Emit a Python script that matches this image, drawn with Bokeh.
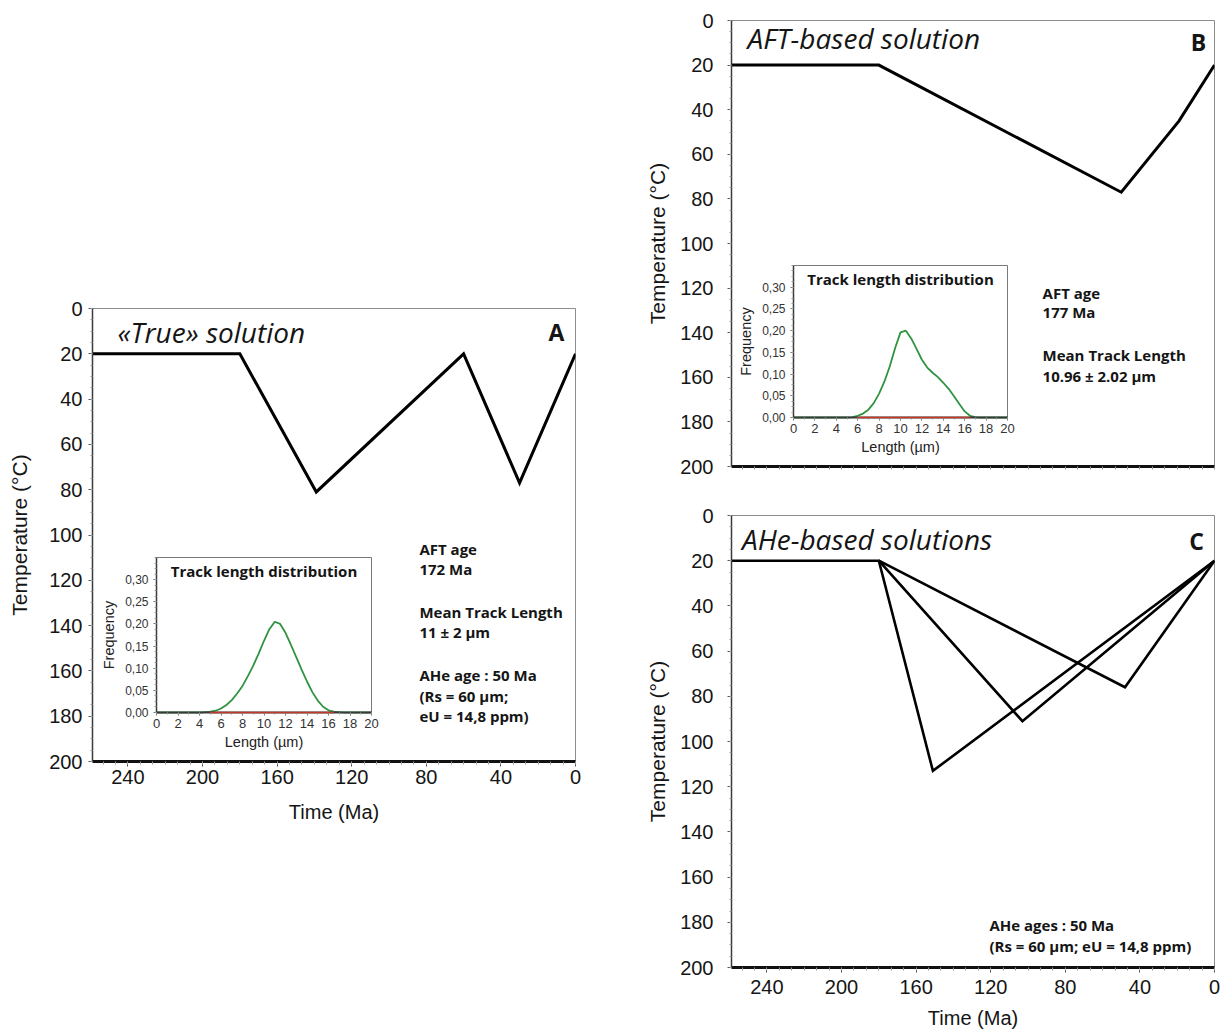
from bokeh.plotting import figure
from bokeh.models import Range1d, LinearAxis, FixedTicker, CustomJSTickFormatter, Label
from bokeh.layouts import row, column
from bokeh.embed import file_html
from bokeh.resources import INLINE

# ---------------- data ----------------
# thermal histories (time in Ma, temperature in degC)
time_A = [260, 180, 139, 60, 30, 0]
temp_A = [20, 20, 81, 20, 77, 20]

time_B = [260, 180, 50, 19, 0]
temp_B = [20, 20, 77, 45, 20]

time_C1 = [260, 180, 151, 0]
temp_C1 = [20, 20, 113, 20]
time_C2 = [180, 103, 0]
temp_C2 = [20, 91, 20]
time_C3 = [180, 48, 0]
temp_C3 = [20, 76, 20]

# track length distributions
length_um = [0, 0.5, 1, 1.5, 2, 2.5, 3, 3.5, 4, 4.5, 5, 5.5, 6, 6.5, 7, 7.5, 8, 8.5, 9, 9.5,
             10, 10.5, 11, 11.5, 12, 12.5, 13, 13.5, 14, 14.5, 15, 15.5, 16, 16.5, 17, 17.5,
             18, 18.5, 19, 19.5, 20]
freq_A = [0, 0, 0, 0, 0, 0, 0, 0, 0, 0.001, 0.002, 0.004, 0.009, 0.017, 0.028, 0.043, 0.060,
          0.082, 0.106, 0.133, 0.162, 0.188, 0.205, 0.200, 0.180, 0.153, 0.125, 0.097, 0.070,
          0.046, 0.027, 0.013, 0.005, 0.002, 0.001, 0, 0, 0, 0, 0, 0]
freq_B = [0, 0, 0, 0, 0, 0, 0, 0, 0, 0, 0, 0.001, 0.004, 0.009, 0.018, 0.033, 0.055, 0.083,
          0.118, 0.160, 0.196, 0.200, 0.182, 0.158, 0.133, 0.115, 0.103, 0.093, 0.080, 0.066,
          0.049, 0.031, 0.014, 0.004, 0.001, 0, 0, 0, 0, 0, 0]
red_span_A = [5, 16.5]
red_span_B = [6, 16.5]

# axes
time_label_ticks = [0, 40, 80, 120, 160, 200, 240]
time_ticks = [0, 20, 40, 60, 80, 100, 120, 140, 160, 180, 200, 220, 240]
temp_ticks = [0, 20, 40, 60, 80, 100, 120, 140, 160, 180, 200]
len_ticks = [0, 2, 4, 6, 8, 10, 12, 14, 16, 18, 20]
freq_ticks = [0, 0.05, 0.10, 0.15, 0.20, 0.25, 0.30]
TIME_MAX = 259
TEMP_MAX = 200
LEN_MAX = 20
FREQ_MAX = 0.35

AX_FONT = "Liberation Sans"
TX_FONT = "Open Sans"
INK = "#151515"


def make_main(frame_h, mb, xlabels, ytick_standoff, ylabel_standoff, xtick_standoff, xlabel_standoff):
    left, right, top, bottom = mb
    p = figure(frame_width=483, frame_height=frame_h,
               x_range=Range1d(TIME_MAX, 0), y_range=Range1d(TEMP_MAX, 0),
               output_backend="svg", toolbar_location=None,
               min_border_left=left, min_border_right=right,
               min_border_top=top, min_border_bottom=bottom)
    p.xgrid.visible = False
    p.ygrid.visible = False
    p.background_fill_color = "white"
    p.border_fill_color = "white"
    p.outline_line_color = "#8c8c8c"
    p.outline_line_width = 1

    ya = p.yaxis[0]
    ya.ticker = FixedTicker(ticks=temp_ticks, minor_ticks=list(range(0, 201, 5)))
    ya.axis_line_color = "#3a3a3a"
    ya.axis_line_width = 1.5
    ya.major_tick_out = 4
    ya.major_tick_in = 0
    ya.minor_tick_out = 2
    ya.minor_tick_in = 0
    ya.major_tick_line_color = "#555555"
    ya.minor_tick_line_color = "#999999"
    ya.major_label_text_font = AX_FONT
    ya.major_label_text_font_size = "20px"
    ya.major_label_text_color = INK
    ya.major_label_standoff = ytick_standoff
    ya.axis_label = "Temperature (°C)"
    ya.axis_label_text_font = AX_FONT
    ya.axis_label_text_font_size = "21px"
    ya.axis_label_text_font_style = "normal"
    ya.axis_label_text_color = INK
    ya.axis_label_standoff = ylabel_standoff

    xa = p.xaxis[0]
    xa.ticker = FixedTicker(ticks=time_label_ticks if xlabels else [],
                            minor_ticks=[i * 20 / 3 for i in range(0, 39)])
    xa.axis_line_color = "#111111"
    xa.axis_line_width = 3
    xa.major_tick_out = 5
    xa.major_tick_in = 0
    xa.minor_tick_out = 3
    xa.minor_tick_in = 0
    xa.major_tick_line_color = "#555555"
    xa.minor_tick_line_color = "#999999"
    if xlabels:
        xa.major_label_text_font = AX_FONT
        xa.major_label_text_font_size = "20px"
        xa.major_label_text_color = INK
        xa.major_label_standoff = xtick_standoff
        xa.axis_label = "Time (Ma)"
        xa.axis_label_text_font = AX_FONT
        xa.axis_label_text_font_size = "20px"
        xa.axis_label_text_font_style = "normal"
        xa.axis_label_text_color = INK
        xa.axis_label_standoff = xlabel_standoff

    # unlabelled longer ticks every 20 Ma
    xt = LinearAxis(fixed_location=TEMP_MAX,
                    ticker=FixedTicker(ticks=[], minor_ticks=time_ticks))
    xt.axis_line_color = None
    xt.minor_tick_out = 5
    xt.minor_tick_in = 0
    xt.minor_tick_line_color = "#555555"
    p.add_layout(xt, "below")
    return p


def add_inset(p, frame_w, frame_h, box, freq, red_span):
    l, t, r, b = box
    sx = LEN_MAX / (r - l)
    sy = FREQ_MAX / (b - t)
    p.extra_x_ranges = {"L": Range1d(-l * sx, LEN_MAX + (frame_w - r) * sx)}
    p.extra_y_ranges = {"F": Range1d(-(frame_h - b) * sy, FREQ_MAX + t * sy)}

    p.quad(left=0, right=LEN_MAX, bottom=0, top=FREQ_MAX, x_range_name="L", y_range_name="F",
           fill_color="white", line_color="#7a7a7a", line_width=1)
    p.line(x=length_um, y=freq, x_range_name="L", y_range_name="F",
           line_color="#2f9340", line_width=1.8)

    ix = LinearAxis(x_range_name="L", y_range_name="F", fixed_location=0, bounds=(0, LEN_MAX),
                    ticker=FixedTicker(ticks=len_ticks, minor_ticks=[i for i in range(0, 21)]))
    ix.axis_line_color = "#3a3a3a"
    ix.axis_line_width = 2
    ix.major_tick_out = 3
    ix.major_tick_in = 0
    ix.minor_tick_out = 2
    ix.minor_tick_in = 0
    ix.major_tick_line_color = "#666666"
    ix.minor_tick_line_color = "#999999"
    ix.major_label_text_font = AX_FONT
    ix.major_label_text_font_size = "13px"
    ix.major_label_text_color = "#333333"
    ix.major_label_standoff = 3
    ix.axis_label = "Length (µm)"
    ix.axis_label_text_font = AX_FONT
    ix.axis_label_text_font_size = "14.5px"
    ix.axis_label_text_font_style = "normal"
    ix.axis_label_text_color = "#222222"
    ix.axis_label_standoff = 3
    p.add_layout(ix, "below")

    iy = LinearAxis(x_range_name="L", y_range_name="F", fixed_location=0, bounds=(0, FREQ_MAX),
                    ticker=FixedTicker(ticks=freq_ticks,
                                       minor_ticks=[i * 0.0125 for i in range(0, 29)]))
    iy.formatter = CustomJSTickFormatter(code="return tick.toFixed(2).replace('.', ',');")
    iy.axis_line_color = "#3a3a3a"
    iy.axis_line_width = 1.5
    iy.major_tick_out = 3
    iy.major_tick_in = 0
    iy.minor_tick_out = 2
    iy.minor_tick_in = 0
    iy.major_tick_line_color = "#666666"
    iy.minor_tick_line_color = "#999999"
    iy.major_label_text_font = AX_FONT
    iy.major_label_text_font_size = "12px"
    iy.major_label_text_color = "#333333"
    iy.major_label_standoff = 5
    iy.axis_label = "Frequency"
    iy.axis_label_text_font = AX_FONT
    iy.axis_label_text_font_size = "14.5px"
    iy.axis_label_text_font_style = "normal"
    iy.axis_label_text_color = "#222222"
    iy.axis_label_standoff = 5
    p.add_layout(iy, "left")

    rl = p.line(x=red_span, y=[0, 0], x_range_name="L", y_range_name="F",
                line_color="#c0392b", line_width=1.5)
    rl.level = "annotation"

    p.add_layout(Label(x=LEN_MAX / 2, y=0.32, x_range_name="L", y_range_name="F",
                       text="Track length distribution", text_align="center",
                       text_baseline="middle", text_font=TX_FONT, text_font_style="bold",
                       text_font_size="15px", text_color=INK))


def add_title(p, x, y, text):
    p.add_layout(Label(x=x, y=y, text=text, text_align="left", text_baseline="middle",
                       text_font=TX_FONT, text_font_style="italic", text_font_size="28px",
                       text_color=INK))


def add_letter(p, x, y, letter):
    p.add_layout(Label(x=x, y=y, text=letter, text_align="center", text_baseline="middle",
                       text_font=TX_FONT, text_font_style="bold", text_font_size="23px",
                       text_color=INK))


def add_block(p, x, lines):
    for txt, y in lines:
        p.add_layout(Label(x=x, y=y, text=txt, text_align="left", text_baseline="middle",
                           text_font=TX_FONT, text_font_style="bold", text_font_size="15px",
                           text_color=INK))


# ---------------- panel A ----------------
pA = make_main(453, (92, 65, 308, 100), True, 6, 15, 3, 14)
add_inset(pA, 483, 453, (64, 249, 279, 404), freq_A, red_span_A)
pA.line(time_A, temp_A, line_color="black", line_width=3, line_join="miter")
add_title(pA, 245.6, 10.5, "«True» solution")
add_letter(pA, 10.2, 10.2, "A")
add_block(pA, 83.7, [("AFT age", 106.0), ("172 Ma", 115.2),
                     ("Mean Track Length", 133.8), ("11 ± 2 µm", 143.0),
                     ("AHe age : 50 Ma", 161.6), ("(Rs = 60 µm;", 170.9),
                     ("eU = 14,8 ppm)", 180.1)])

# ---------------- panel B ----------------
pB = make_main(446, (91, 8, 20, 20), False, 14, 8, 0, 0)
add_inset(pB, 483, 446, (62, 245, 276, 397), freq_B, red_span_B)
pB.line(time_B, temp_B, line_color="black", line_width=3, line_join="miter")
add_title(pB, 250.4, 7.8, "AFT-based solution")
add_letter(pB, 8.6, 9.8, "B")
add_block(pB, 92.2, [("AFT age", 122.0), ("177 Ma", 130.9),
                     ("Mean Track Length", 149.8), ("10.96 ± 2.02 µm", 159.2)])

# ---------------- panel C ----------------
pC = make_main(452, (91, 8, 29, 66), True, 14, 8, 7, 10)
pC.multi_line([time_C1, time_C2, time_C3], [temp_C1, temp_C2, temp_C3],
              line_color="black", line_width=2.6, line_join="miter")
add_title(pC, 253.4, 10.2, "AHe-based solutions")
add_letter(pC, 9.6, 11.3, "C")
add_block(pC, 120.7, [("AHe ages : 50 Ma", 181.0), ("(Rs = 60 µm; eU = 14,8 ppm)", 190.3)])

layout = row(pA, column(pB, pC))

open("out.html", "w").write(file_html(layout, INLINE))
